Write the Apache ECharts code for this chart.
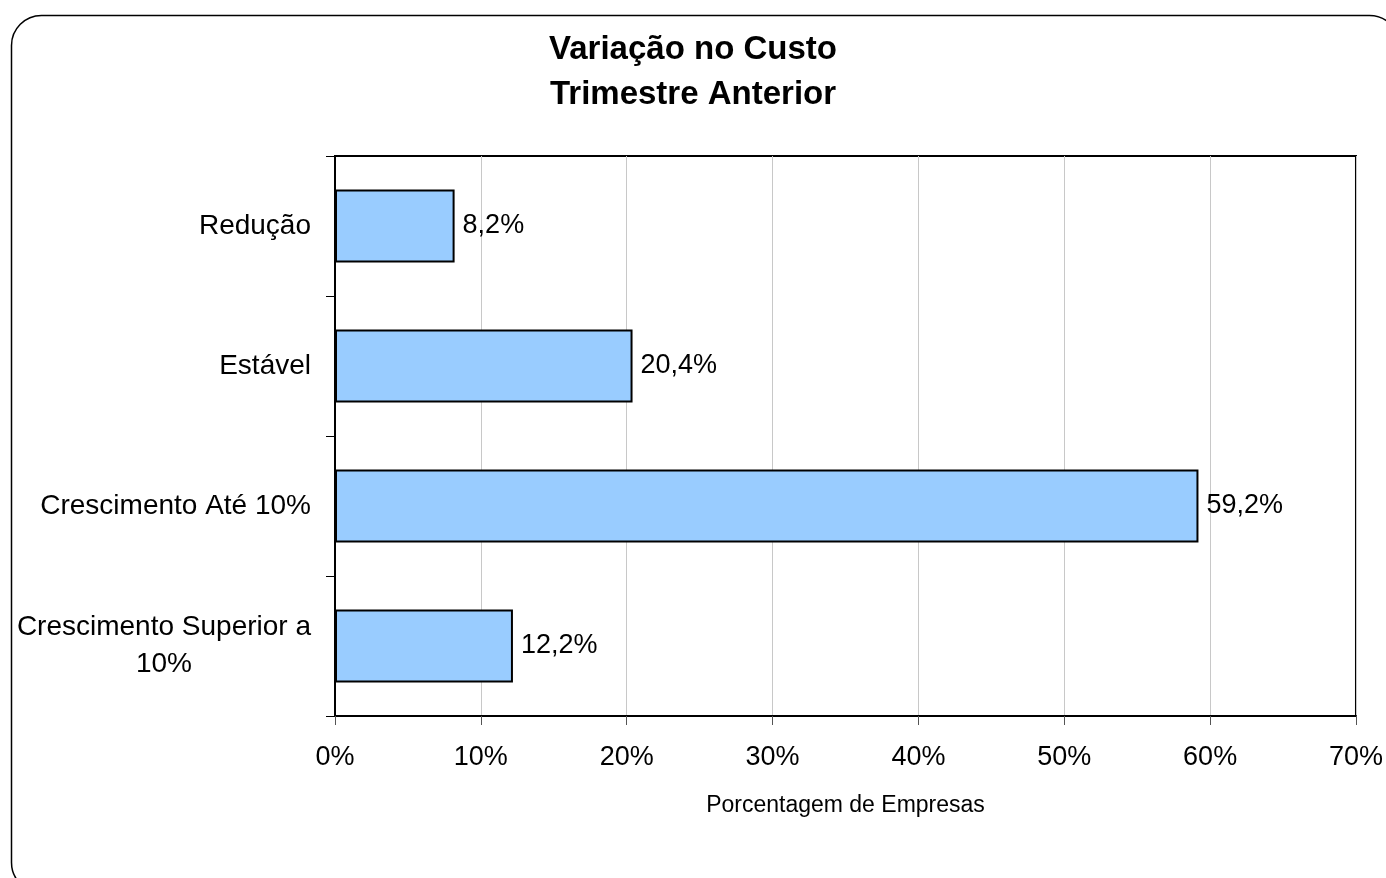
<!DOCTYPE html>
<html><head><meta charset="utf-8">
<script src="https://cdn.jsdelivr.net/npm/echarts@6/dist/echarts.min.js"></script>
<style>html,body{margin:0;padding:0;background:#fff}#c{width:1386px;height:878px}</style>
</head><body><div id="c"></div>
<script>
const categories = ['Redução', 'Estável', 'Crescimento Até 10%', 'Crescimento Superior a 10%'];
const values = [8.2, 20.4, 59.2, 12.2];
const xTicks = [0, 10, 20, 30, 40, 50, 60, 70];
const titleLines = ['Variação no Custo', 'Trimestre Anterior'];
const xName = 'Porcentagem de Empresas';

const font = '"Liberation Sans", Arial, sans-serif';
const chart = echarts.init(document.getElementById('c'));
chart.setOption({
  animation: false,
  backgroundColor: '#fff',
  graphic: [{
    type: 'rect', left: 9, top: 13, z: -1, silent: true,
    shape: { width: 1388, height: 877, r: 30 },
    style: { fill: 'none', stroke: '#000', lineWidth: 1.5 }
  }],
  title: {
    text: titleLines.join('\n'),
    left: 'center', top: 22,
    textStyle: { fontFamily: font, fontSize: 33, fontWeight: 'bold', color: '#000', lineHeight: 45 }
  },
  grid: { left: 335, right: 30, top: 156, bottom: 162, show: true, borderColor: '#000', borderWidth: 2, backgroundColor: 'transparent' },
  xAxis: {
    type: 'value', min: 0, max: 70, interval: 10,
    name: xName, nameLocation: 'middle', nameGap: 78,
    nameTextStyle: { fontFamily: font, fontSize: 23, color: '#000' },
    axisLine: { show: true, lineStyle: { color: '#000', width: 2 } },
    axisTick: { show: true, length: 9, lineStyle: { color: '#555', width: 1 } },
    axisLabel: { margin: 28, fontFamily: font, fontSize: 27, color: '#000',
      formatter: v => xTicks.includes(v) ? v + '%' : '' },
    splitLine: { show: true, lineStyle: { color: '#c8c8c8', width: 1 } }
  },
  yAxis: {
    type: 'category', data: categories, inverse: true,
    axisLine: { show: true, lineStyle: { color: '#000', width: 2 } },
    axisTick: { show: true, length: 9, lineStyle: { color: '#000', width: 1 } },
    axisLabel: {
      margin: 24, fontFamily: font, fontSize: 28, color: '#000', lineHeight: 37,
      formatter: v => {
        const m = v.match(/^(Crescimento Superior a) (10%)$/);
        return m ? '{a|' + m[1] + '}\n{a|' + m[2] + '}' : v;
      },
      rich: { a: { align: 'center', fontFamily: font, fontSize: 28, color: '#000', lineHeight: 37 } }
    }
  },
  series: [{
    type: 'bar', data: values, barCategoryGap: '48%',
    itemStyle: { color: '#99CCFF', borderColor: '#000', borderWidth: 2 },
    label: { show: true, position: 'right', distance: 8, fontFamily: font, fontSize: 27, color: '#000',
      formatter: p => p.value.toFixed(1).replace('.', ',') + '%' }
  }]
});
</script></body></html>
